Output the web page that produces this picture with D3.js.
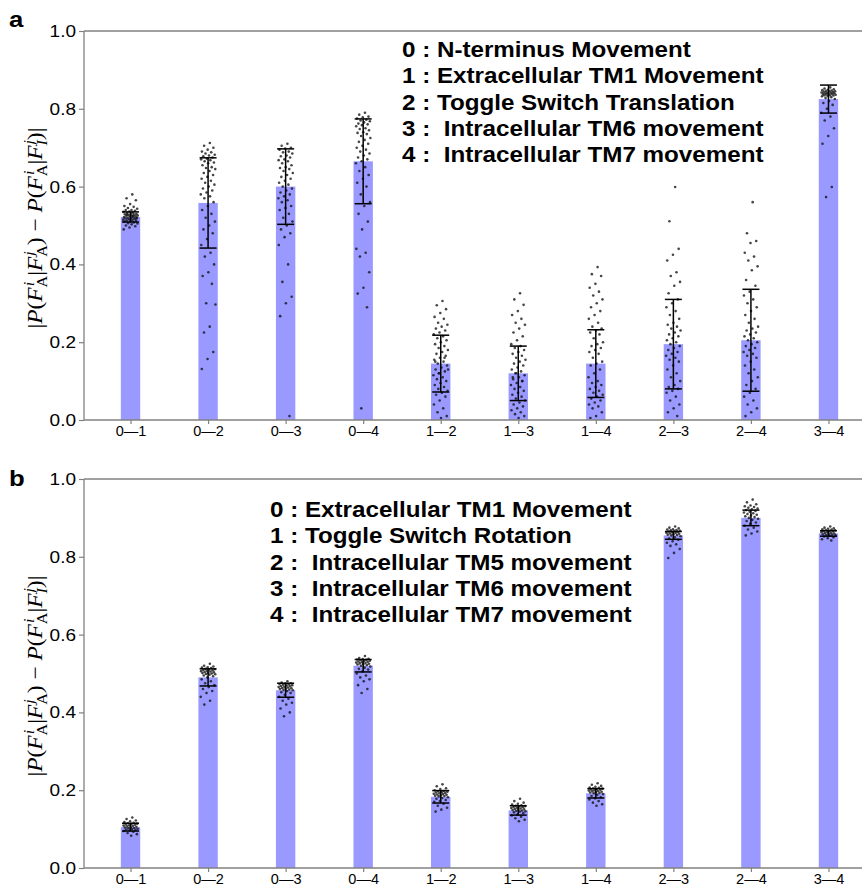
<!DOCTYPE html>
<html>
<head>
<meta charset="utf-8">
<script src="https://cdnjs.cloudflare.com/ajax/libs/d3/7.8.5/d3.min.js"></script>
<style>
  body { margin: 0; background: #fff; }
  svg { display: block; }
</style>
</head>
<body>
<div id="chart"></div>
<script>
// categories (pairs of features)
var categories = ["0—1", "0—2", "0—3", "0—4", "1—2", "1—3", "1—4", "2—3", "2—4", "3—4"];
var yTicks = [0, 0.2, 0.4, 0.6, 0.8, 1.0];

// panel a : bar means and std
var meansA = [0.522, 0.558, 0.600, 0.665, 0.145, 0.120, 0.145, 0.195, 0.205, 0.825];
var stdA = [0.013, 0.116, 0.097, 0.109, 0.073, 0.070, 0.087, 0.115, 0.131, 0.036];
var legendA = [
  "0 : N-terminus Movement",
  "1 : Extracellular TM1 Movement",
  "2 : Toggle Switch Translation",
  "3 :  Intracellular TM6 movement",
  "4 :  Intracellular TM7 movement"
];

// panel b : bar means and std
var meansB = [0.105, 0.490, 0.457, 0.520, 0.183, 0.148, 0.192, 0.855, 0.900, 0.860];
var stdB = [0.010, 0.022, 0.018, 0.016, 0.016, 0.012, 0.012, 0.010, 0.020, 0.007];
var legendB = [
  "0 : Extracellular TM1 Movement",
  "1 : Toggle Switch Rotation",
  "2 :  Intracellular TM5 movement",
  "3 :  Intracellular TM6 movement",
  "4 :  Intracellular TM7 movement"
];

// individual runs, panel a
var a01 = [0.58,0.57,0.565,0.555,0.55,0.548,0.545,0.543,0.54,0.54,0.538,0.536,0.535,0.533,0.532,0.53,0.53,0.529,0.528,0.527,0.526,0.525,0.525,0.524,0.523,0.522,0.521,0.52,0.52,0.519,0.518,0.517,0.516,0.515,0.514,0.513,0.512,0.511,0.51,0.508,0.506,0.505,0.503,0.5,0.498,0.495,0.49,0.525,0.528,0.518];
var a02 = [0.712,0.705,0.70,0.695,0.69,0.688,0.685,0.682,0.68,0.678,0.675,0.672,0.67,0.668,0.665,0.662,0.66,0.655,0.65,0.648,0.645,0.64,0.635,0.63,0.625,0.62,0.615,0.61,0.605,0.60,0.595,0.59,0.585,0.58,0.575,0.57,0.56,0.55,0.54,0.53,0.52,0.51,0.50,0.49,0.48,0.465,0.45,0.43,0.42,0.40,0.38,0.37,0.35,0.30,0.297,0.24,0.225,0.175,0.157,0.131];
var a03 = [0.71,0.705,0.70,0.698,0.695,0.69,0.688,0.685,0.68,0.678,0.675,0.67,0.668,0.665,0.66,0.655,0.65,0.648,0.645,0.64,0.635,0.63,0.625,0.62,0.615,0.61,0.605,0.60,0.595,0.59,0.585,0.58,0.575,0.57,0.565,0.56,0.55,0.545,0.54,0.53,0.52,0.51,0.50,0.49,0.48,0.47,0.45,0.40,0.355,0.317,0.30,0.267,0.01];
var a04 = [0.79,0.785,0.78,0.778,0.775,0.772,0.77,0.768,0.765,0.762,0.76,0.758,0.755,0.75,0.748,0.745,0.74,0.738,0.735,0.73,0.725,0.72,0.715,0.71,0.705,0.70,0.695,0.69,0.685,0.68,0.675,0.67,0.665,0.66,0.65,0.64,0.63,0.62,0.61,0.60,0.58,0.56,0.55,0.53,0.51,0.49,0.44,0.43,0.42,0.38,0.34,0.325,0.29,0.03];
var a12 = [0.306,0.295,0.285,0.275,0.265,0.26,0.25,0.245,0.24,0.235,0.23,0.225,0.22,0.215,0.21,0.205,0.2,0.195,0.19,0.185,0.18,0.175,0.17,0.165,0.16,0.155,0.15,0.145,0.14,0.135,0.13,0.125,0.12,0.115,0.11,0.105,0.1,0.095,0.09,0.085,0.08,0.075,0.07,0.065,0.06,0.05,0.04,0.03,0.02,0.01,0.005,0.15,0.16,0.12,0.13];
var a13 = [0.326,0.31,0.296,0.28,0.27,0.26,0.25,0.245,0.235,0.225,0.215,0.205,0.195,0.19,0.185,0.18,0.175,0.17,0.165,0.16,0.155,0.15,0.145,0.14,0.135,0.13,0.125,0.12,0.115,0.11,0.105,0.1,0.095,0.09,0.085,0.08,0.075,0.07,0.065,0.06,0.055,0.05,0.045,0.04,0.035,0.03,0.025,0.02,0.015,0.01,0.005,0.11,0.1,0.12];
var a14 = [0.393,0.375,0.37,0.35,0.34,0.33,0.32,0.31,0.3,0.29,0.28,0.27,0.26,0.25,0.24,0.235,0.23,0.225,0.22,0.21,0.2,0.195,0.19,0.185,0.18,0.175,0.17,0.16,0.15,0.145,0.14,0.13,0.12,0.11,0.1,0.095,0.09,0.085,0.08,0.075,0.07,0.065,0.06,0.055,0.05,0.045,0.04,0.035,0.03,0.02,0.01,0.005];
var a23 = [0.599,0.511,0.44,0.425,0.41,0.38,0.37,0.355,0.345,0.326,0.31,0.3,0.29,0.28,0.27,0.26,0.25,0.245,0.24,0.235,0.23,0.225,0.22,0.215,0.21,0.205,0.2,0.195,0.19,0.185,0.18,0.175,0.17,0.165,0.16,0.155,0.15,0.14,0.13,0.12,0.11,0.1,0.09,0.085,0.08,0.075,0.07,0.06,0.05,0.04,0.03,0.02,0.01];
var a24 = [0.56,0.48,0.46,0.455,0.43,0.42,0.41,0.395,0.385,0.36,0.345,0.33,0.32,0.31,0.3,0.29,0.28,0.27,0.26,0.25,0.24,0.235,0.23,0.225,0.22,0.215,0.21,0.205,0.2,0.195,0.19,0.185,0.18,0.175,0.17,0.165,0.16,0.15,0.14,0.13,0.12,0.11,0.1,0.09,0.08,0.07,0.06,0.05,0.04,0.03,0.02,0.01];
var a34 = [0.855,0.852,0.85,0.849,0.848,0.847,0.846,0.845,0.845,0.844,0.843,0.842,0.842,0.841,0.84,0.84,0.839,0.838,0.838,0.837,0.836,0.835,0.835,0.834,0.833,0.832,0.83,0.828,0.825,0.82,0.815,0.81,0.8,0.79,0.78,0.77,0.75,0.73,0.71,0.599,0.573];

// individual runs, panel b
var b01 = [0.13,0.126,0.122,0.12,0.118,0.116,0.115,0.114,0.113,0.112,0.111,0.11,0.109,0.108,0.107,0.106,0.105,0.104,0.103,0.102,0.101,0.1,0.099,0.098,0.097,0.095,0.093,0.09,0.087,0.083];
var b02 = [0.525,0.52,0.518,0.516,0.515,0.514,0.512,0.511,0.51,0.509,0.508,0.507,0.506,0.505,0.504,0.503,0.502,0.501,0.5,0.499,0.498,0.497,0.495,0.493,0.49,0.485,0.48,0.475,0.47,0.465,0.46,0.455,0.45,0.44,0.43,0.42];
var b03 = [0.48,0.477,0.475,0.474,0.473,0.472,0.471,0.47,0.469,0.468,0.467,0.466,0.465,0.464,0.463,0.462,0.461,0.46,0.459,0.458,0.457,0.455,0.452,0.45,0.445,0.44,0.435,0.43,0.425,0.42,0.41,0.4,0.39];
var b04 = [0.545,0.54,0.538,0.537,0.536,0.535,0.534,0.533,0.532,0.531,0.53,0.529,0.528,0.527,0.526,0.525,0.524,0.523,0.522,0.52,0.518,0.515,0.512,0.51,0.505,0.5,0.495,0.49,0.485,0.48,0.47,0.46,0.45];
var b12 = [0.215,0.21,0.205,0.203,0.2,0.198,0.197,0.196,0.195,0.194,0.193,0.192,0.191,0.19,0.189,0.188,0.187,0.186,0.185,0.184,0.182,0.18,0.178,0.175,0.172,0.17,0.165,0.16,0.155,0.15,0.145];
var b13 = [0.178,0.172,0.168,0.165,0.163,0.161,0.16,0.159,0.158,0.157,0.156,0.155,0.154,0.153,0.152,0.151,0.15,0.149,0.148,0.147,0.146,0.145,0.143,0.141,0.138,0.135,0.132,0.128,0.124,0.12];
var b14 = [0.218,0.214,0.211,0.209,0.207,0.206,0.205,0.204,0.203,0.202,0.201,0.2,0.199,0.198,0.197,0.196,0.195,0.194,0.193,0.192,0.19,0.188,0.185,0.182,0.179,0.176,0.172,0.168,0.164,0.16];
var b23 = [0.878,0.875,0.873,0.871,0.87,0.869,0.868,0.867,0.866,0.865,0.864,0.863,0.862,0.861,0.86,0.859,0.858,0.857,0.856,0.855,0.853,0.85,0.847,0.844,0.84,0.836,0.832,0.828,0.82,0.81,0.797];
var b24 = [0.947,0.94,0.935,0.932,0.93,0.928,0.926,0.924,0.922,0.92,0.918,0.916,0.914,0.912,0.91,0.908,0.906,0.904,0.902,0.9,0.898,0.895,0.892,0.888,0.885,0.88,0.875,0.87,0.865,0.86,0.855];
var b34 = [0.878,0.875,0.873,0.872,0.871,0.87,0.869,0.868,0.867,0.866,0.865,0.864,0.863,0.862,0.861,0.86,0.859,0.858,0.857,0.856,0.855,0.854,0.852,0.85,0.848,0.845,0.842];

var pointsA = [a01, a02, a03, a04, a12, a13, a14, a23, a24, a34];
var pointsB = [b01, b02, b03, b04, b12, b13, b14, b23, b24, b34];

var width = 862, height = 886;
var sansFont = "'Liberation Sans', Arial, Helvetica, sans-serif";
var serifFont = "'Liberation Serif', 'DejaVu Serif', serif";
var spineColor = "#808080";
var stretch = 1.12; // the figure text is a bit wider than tall

var svg = d3.select("#chart").append("svg")
  .attr("width", width)
  .attr("height", height);

var x = d3.scalePoint()
  .domain(categories)
  .range([84, 875])
  .padding(0.6);

var barWidth = x.step() * 0.25;

var panels = [
  { label: "a", top: 31, bottom: 420, means: meansA, std: stdA, points: pointsA,
    legend: legendA, legendX: 402, legendY: 57, labelY: 27, ylabelY: 228 },
  { label: "b", top: 479, bottom: 868, means: meansB, std: stdB, points: pointsB,
    legend: legendB, legendX: 270, legendY: 517, labelY: 486, ylabelY: 676 }
];

panels.forEach(function(p) {
  var y = d3.scaleLinear().domain([0, 1]).range([p.bottom, p.top]);
  var g = svg.append("g");

  var rows = categories.map(function(c, i) {
    return { cat: c, mean: p.means[i], sd: p.std[i], pts: p.points[i] };
  });

  // bars
  g.selectAll(".bar")
    .data(rows)
    .enter()
    .append("rect")
    .attr("class", "bar")
    .attr("x", function(d) { return x(d.cat) - barWidth / 2; })
    .attr("width", barWidth)
    .attr("y", function(d) { return y(d.mean); })
    .attr("height", function(d) { return y(0) - y(d.mean); })
    .style("fill", "#9999ff");

  // jittered points
  var dots = [];
  rows.forEach(function(r) {
    r.pts.forEach(function(v, k) {
      var jit = (((k + 1) * 0.6180339) % 1 - 0.5) * 15;
      dots.push({ cat: r.cat, v: v, jit: jit });
    });
  });
  g.selectAll(".dot")
    .data(dots)
    .enter()
    .append("circle")
    .attr("class", "dot")
    .attr("cx", function(d) { return x(d.cat) + d.jit; })
    .attr("cy", function(d) { return y(d.v); })
    .attr("r", 1.3)
    .style("fill", "#111")
    .style("fill-opacity", 0.78);

  // error bars
  var eb = g.selectAll(".err")
    .data(rows)
    .enter()
    .append("g")
    .attr("class", "err")
    .style("stroke", "#000")
    .style("stroke-width", 1.5);
  eb.append("line")
    .attr("x1", function(d) { return x(d.cat); })
    .attr("x2", function(d) { return x(d.cat); })
    .attr("y1", function(d) { return y(d.mean - d.sd); })
    .attr("y2", function(d) { return y(d.mean + d.sd); });
  [-1, 1].forEach(function(s) {
    eb.append("line")
      .attr("x1", function(d) { return x(d.cat) - 8.5; })
      .attr("x2", function(d) { return x(d.cat) + 8.5; })
      .attr("y1", function(d) { return y(d.mean + s * d.sd); })
      .attr("y2", function(d) { return y(d.mean + s * d.sd); });
  });

  // axes
  var yAxis = g.append("g")
    .attr("transform", "translate(84,0)")
    .call(d3.axisLeft(y).tickValues(yTicks).tickFormat(d3.format(".1f")).tickSize(5).tickPadding(3));
  yAxis.selectAll("text")
    .style("font-family", sansFont)
    .style("font-size", "17px")
    .style("fill", "#000")
    .attr("transform", function() {
      var tx = +d3.select(this).attr("x");
      return "translate(" + tx + ",0) scale(" + stretch + ",1) translate(" + (-tx) + ",0)";
    });

  var xAxis = g.append("g")
    .attr("transform", "translate(0," + p.bottom + ")")
    .call(d3.axisBottom(x).tickSize(4).tickPadding(2));
  xAxis.selectAll("text")
    .style("font-family", sansFont)
    .style("font-size", "14.5px")
    .style("fill", "#000");

  [yAxis, xAxis].forEach(function(a) {
    a.select(".domain").remove();
    a.selectAll(".tick line").style("stroke", spineColor).style("stroke-width", 1.2);
  });

  // spines
  g.append("line").attr("x1", 84).attr("x2", width).attr("y1", p.top).attr("y2", p.top)
    .style("stroke", spineColor).style("stroke-width", 1.3);
  g.append("line").attr("x1", 84).attr("x2", width).attr("y1", p.bottom).attr("y2", p.bottom)
    .style("stroke", spineColor).style("stroke-width", 1.3);
  g.append("line").attr("x1", 84).attr("x2", 84).attr("y1", p.top).attr("y2", p.bottom)
    .style("stroke", spineColor).style("stroke-width", 1.3);

  // legend
  g.selectAll(".legend")
    .data(p.legend)
    .enter()
    .append("text")
    .attr("class", "legend")
    .attr("transform", function(d, i) {
      return "translate(" + p.legendX + "," + (p.legendY + i * 26.3) + ") scale(1.1,1)";
    })
    .style("white-space", "pre")
    .style("font-family", sansFont)
    .style("font-weight", "bold")
    .style("font-size", "22px")
    .text(function(d) { return d; });

  // panel label
  g.append("text")
    .attr("transform", "translate(9," + p.labelY + ") scale(" + stretch + ",1)")
    .style("font-family", sansFont)
    .style("font-weight", "bold")
    .style("font-size", "23px")
    .text(p.label);

  // y label |P(F_A^i|F_A^j) - P(F_A^i|F_I^j)|
  drawYLabel(g, 42, p.ylabelY, 201);
});

function drawYLabel(g, cx, cy, targetLen) {
  var t = g.append("text")
    .attr("text-anchor", "start")
    .style("font-family", serifFont)
    .style("font-size", "21px")
    .style("fill", "#000");

  var pieces = [
    ["|", "n"], ["P", "i"], ["(", "n"], ["F", "i"], ["i", "sup"], ["A", "sub"],
    ["|", "n"], ["F", "i"], ["j", "sup"], ["A", "sub"], [")", "n"],
    [" − ", "n"],
    ["P", "i"], ["(", "n"], ["F", "i"], ["i", "sup"], ["A", "sub"],
    ["|", "n"], ["F", "i"], ["j", "sup"], ["I", "subi"], [")", "n"], ["|", "n"]
  ];
  var level = 0, lastSupLen = 0;
  pieces.forEach(function(pc) {
    var kind = pc[1];
    var ts = t.append("tspan").text(pc[0]).style("white-space", "pre");
    var target = 0;
    if (kind === "sup") target = -8;
    if (kind === "sub" || kind === "subi") target = 5;
    if (kind === "sup" || kind === "sub" || kind === "subi") ts.style("font-size", "14.5px");
    if (kind === "i" || kind === "sup" || kind === "subi") ts.style("font-style", "italic");
    ts.attr("dy", target - level);
    level = target;
    if (kind === "sup") {
      ts.attr("dx", 1);
      lastSupLen = ts.node().getComputedTextLength() + 1;
    }
    if (kind === "sub" || kind === "subi") {
      ts.attr("dx", -lastSupLen);
    }
  });
  // fit the label to the length seen in the figure and center it on cy
  var bb = t.node().getBBox();
  var k = targetLen / bb.width;
  t.attr("transform", "translate(" + cx + "," + (cy + targetLen / 2) + ") rotate(-90) scale(" + k + ",1) translate(" + (-bb.x) + ",0)");
}
</script>
</body>
</html>
